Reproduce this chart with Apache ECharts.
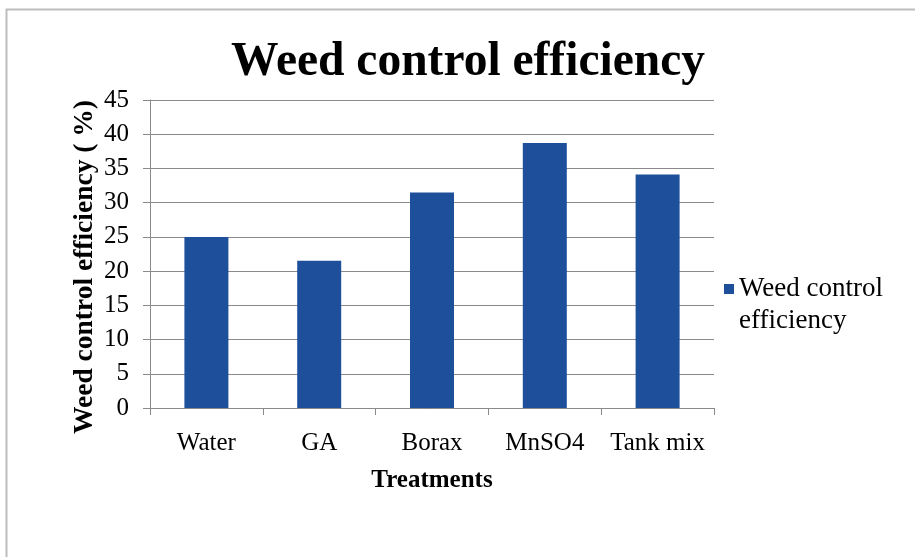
<!DOCTYPE html>
<html>
<head>
<meta charset="utf-8">
<script src="https://cdn.jsdelivr.net/npm/echarts@6/dist/echarts.min.js"></script>
<style>
  html, body { margin: 0; padding: 0; background: #fff; }
  #chart { width: 915px; height: 557px; }
</style>
</head>
<body>
<div id="chart"></div>
<script>
// Treatments on the category axis
const categories = ['Water', 'GA', 'Borax', 'MnSO4', 'Tank mix'];
// Weed control efficiency (%) per treatment
const efficiency = [25.0, 21.5, 31.5, 38.7, 34.1];
// Value axis range and step
const yMin = 0;
const yMax = 45;
const yStep = 5;

const serif = '"Liberation Serif", "Times New Roman", serif';
const barColor = '#1d4f9a';
const gridColor = '#8a8a8a';

const chart = echarts.init(document.getElementById('chart'), null, { renderer: 'canvas' });

chart.setOption({
  backgroundColor: '#ffffff',
  animation: false,
  title: {
    text: 'Weed control efficiency',
    left: 463,
    textAlign: 'center',
    top: 34,
    textStyle: { fontFamily: serif, fontWeight: 'bold', fontSize: 47.5, color: '#000' }
  },
  graphic: [{
    type: 'rect',
    shape: { x: 6.5, y: 9.5, width: 940, height: 600 },
    style: { fill: 'none', stroke: '#bdbdbd', lineWidth: 2 },
    silent: true
  }],
  legend: {
    orient: 'vertical',
    left: 724,
    top: 241,
    padding: 0,
    icon: 'rect',
    itemWidth: 10,
    itemHeight: 10,
    // leading empty row keeps the marker level with the first text row
    formatter: () => '{gap| }\nWeed control\nefficiency',
    textStyle: {
      fontFamily: serif, fontSize: 27, color: '#000', lineHeight: 32,
      rich: { gap: { fontSize: 27, lineHeight: 32 } }
    },
    data: ['Weed control efficiency']
  },
  grid: { left: 150, right: 201, top: 100, bottom: 149, containLabel: false },
  xAxis: {
    type: 'category',
    data: categories,
    name: 'Treatments',
    nameLocation: 'middle',
    nameGap: 60,
    nameMoveOverlap: false,
    nameTextStyle: { fontFamily: serif, fontWeight: 'bold', fontSize: 25, color: '#000' },
    axisLine: { lineStyle: { color: gridColor, width: 1 } },
    axisTick: { show: true, interval: 0, alignWithLabel: false, length: 7, lineStyle: { color: gridColor } },
    axisLabel: { interval: 0, fontFamily: serif, fontSize: 25, color: '#000', margin: 23 }
  },
  yAxis: {
    type: 'value',
    min: yMin,
    max: yMax,
    interval: yStep,
    name: 'Weed control efficiency ( %)',
    nameLocation: 'middle',
    nameGap: 51,
    nameMoveOverlap: false,
    nameTextStyle: {
      fontFamily: serif, fontWeight: 'bold', fontSize: 27.5, color: '#000',
      padding: [0, 26, 0, 0]
    },
    axisLine: { show: true, lineStyle: { color: gridColor, width: 1 } },
    axisTick: { show: true, length: 7, lineStyle: { color: gridColor } },
    axisLabel: { fontFamily: serif, fontSize: 25, color: '#000', margin: 21 },
    splitLine: { show: true, lineStyle: { color: gridColor, width: 1 } }
  },
  series: [{
    name: 'Weed control efficiency',
    type: 'bar',
    data: efficiency,
    barWidth: '39%',
    itemStyle: { color: barColor }
  }]
});
</script>
</body>
</html>
